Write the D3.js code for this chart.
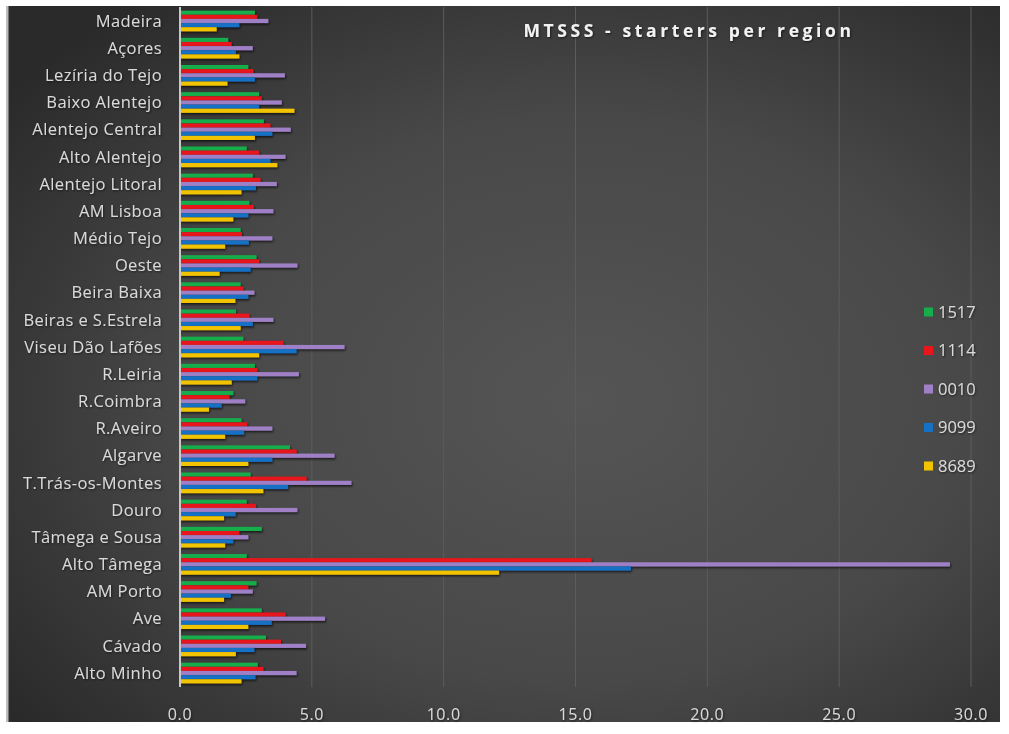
<!DOCTYPE html>
<html>
<head>
<meta charset="utf-8">
<script src="https://cdn.jsdelivr.net/npm/d3@7"></script>
<style>
  html, body { margin: 0; padding: 0; background: #fff; }
  svg { display: block; }
</style>
</head>
<body>
<div id="chart"></div>
<script>
// regions, top of the chart first
const regions = [
  "Madeira", "Açores", "Lezíria do Tejo", "Baixo Alentejo", "Alentejo Central",
  "Alto Alentejo", "Alentejo Litoral", "AM Lisboa", "Médio Tejo", "Oeste",
  "Beira Baixa", "Beiras e S.Estrela", "Viseu Dão Lafões", "R.Leiria", "R.Coimbra",
  "R.Aveiro", "Algarve", "T.Trás-os-Montes", "Douro", "Tâmega e Sousa",
  "Alto Tâmega", "AM Porto", "Ave", "Cávado", "Alto Minho"
];

// series, in the order they sit inside each group (top to bottom)
const seriesNames = ["1517", "1114", "0010", "9099", "8689"];
const seriesColors = ["#17ad4c", "#e8161b", "#9f80c6", "#1670c4", "#f2c300"];

const v1517 = [2.84, 1.83, 2.59, 3.0, 3.18, 2.53, 2.76, 2.63, 2.3, 2.9, 2.3, 2.12, 2.4, 2.84, 2.02, 2.33, 4.17, 2.68, 2.53, 3.1, 2.53, 2.9, 3.1, 3.26, 2.95];
const v1114 = [2.93, 1.96, 2.78, 3.1, 3.43, 3.0, 3.05, 2.8, 2.35, 3.0, 2.4, 2.63, 3.92, 2.93, 1.87, 2.55, 4.42, 4.8, 2.88, 2.25, 15.6, 2.59, 4.0, 3.83, 3.16];
const v0010 = [3.35, 2.76, 3.98, 3.86, 4.2, 4.0, 3.67, 3.54, 3.5, 4.45, 2.82, 3.54, 6.24, 4.51, 2.47, 3.5, 5.86, 6.5, 4.45, 2.59, 29.2, 2.76, 5.5, 4.78, 4.42];
const v9099 = [2.25, 2.12, 2.84, 3.0, 3.5, 3.43, 2.88, 2.59, 2.61, 2.68, 2.59, 2.76, 4.42, 2.93, 1.58, 2.43, 3.5, 4.1, 2.11, 2.02, 17.1, 1.93, 3.48, 2.82, 2.86];
const v8689 = [1.39, 2.25, 1.8, 4.34, 2.84, 3.69, 2.33, 2.02, 1.71, 1.5, 2.1, 2.3, 3.0, 1.96, 1.1, 1.71, 2.59, 3.16, 1.67, 1.71, 12.1, 1.67, 2.59, 2.12, 2.33];
const seriesValues = [v1517, v1114, v0010, v9099, v8689];

const xTicks = [0, 5, 10, 15, 20, 25, 30];

const width = 1009, height = 734;

const svg = d3.select("#chart").append("svg")
  .attr("width", width)
  .attr("height", height)
  .style("font-family", "'Open Sans', sans-serif");

const defs = svg.append("defs");

const bg = defs.append("radialGradient")
  .attr("id", "bg")
  .attr("cx", "58%").attr("cy", "55%").attr("r", "72%");
bg.append("stop").attr("offset", "0%").attr("stop-color", "#555555");
bg.append("stop").attr("offset", "55%").attr("stop-color", "#484848");
bg.append("stop").attr("offset", "100%").attr("stop-color", "#2a2a2a");

const shadow = defs.append("filter")
  .attr("id", "shadow")
  .attr("x", "-5%").attr("y", "-50%").attr("width", "110%").attr("height", "250%");
shadow.append("feDropShadow")
  .attr("dx", 1).attr("dy", 1.5).attr("stdDeviation", 0.9)
  .attr("flood-color", "#000").attr("flood-opacity", 0.7);

const textShadow = defs.append("filter")
  .attr("id", "tshadow")
  .attr("x", "-5%").attr("y", "-20%").attr("width", "110%").attr("height", "150%");
textShadow.append("feDropShadow")
  .attr("dx", 0.8).attr("dy", 1).attr("stdDeviation", 0.8)
  .attr("flood-color", "#000").attr("flood-opacity", 0.6);

// chart background
svg.append("rect")
  .attr("x", 7).attr("y", 6)
  .attr("width", 993).attr("height", 716)
  .attr("fill", "url(#bg)");
svg.append("rect")
  .attr("x", 6).attr("y", 6)
  .attr("width", 2.5).attr("height", 716)
  .attr("fill", "#bdbdbd");

// scales
const x = d3.scaleLinear().domain([0, 30]).range([180, 971]);
const y = d3.scaleBand().domain(regions).range([7.4, 686.6])
  .paddingInner(0.24).paddingOuter(0.12);
const ySub = d3.scaleBand().domain(seriesNames).range([0, y.bandwidth()]);

// grid lines
svg.append("g")
  .selectAll("line")
  .data(xTicks.filter(d => d > 0))
  .join("line")
  .attr("x1", d => x(d)).attr("x2", d => x(d))
  .attr("y1", 7).attr("y2", 687)
  .attr("stroke", "#5c5c5c")
  .attr("stroke-width", 1);

// bars
const groups = svg.append("g")
  .selectAll("g")
  .data(regions)
  .join("g")
  .attr("transform", d => `translate(0,${y(d)})`);

groups.selectAll("rect")
  .data((r, i) => seriesNames.map((s, k) => ({ s, k, v: seriesValues[k][i] })))
  .join("rect")
  .attr("x", x(0))
  .attr("y", d => ySub(d.s))
  .attr("width", d => x(d.v) - x(0))
  .attr("height", ySub.bandwidth())
  .attr("fill", d => seriesColors[d.k])
  .attr("filter", "url(#shadow)");

// vertical axis line
svg.append("line")
  .attr("x1", x(0)).attr("x2", x(0))
  .attr("y1", 7).attr("y2", 687)
  .attr("stroke", "#c8c8c8")
  .attr("stroke-width", 2);

// category labels
svg.append("g")
  .attr("filter", "url(#tshadow)")
  .selectAll("text")
  .data(regions)
  .join("text")
  .attr("x", 162)
  .attr("y", d => y(d) + y.bandwidth() / 2)
  .attr("dy", "0.35em")
  .attr("text-anchor", "end")
  .attr("fill", "#d9d9d9")
  .attr("font-size", 16.5)
  .attr("letter-spacing", 0.4)
  .text(d => d);

// x tick labels
svg.append("g")
  .attr("filter", "url(#tshadow)")
  .selectAll("text")
  .data(xTicks)
  .join("text")
  .attr("x", d => x(d))
  .attr("y", 714)
  .attr("dy", "0.35em")
  .attr("text-anchor", "middle")
  .attr("fill", "#d9d9d9")
  .attr("font-size", 16)
  .attr("letter-spacing", 0.6)
  .text(d => d3.format(".1f")(d));

// title
svg.append("text")
  .attr("filter", "url(#tshadow)")
  .attr("x", 689)
  .attr("y", 31)
  .attr("dy", "0.35em")
  .attr("text-anchor", "middle")
  .attr("fill", "#f2f2f2")
  .attr("font-size", 17.5)
  .attr("font-weight", "bold")
  .attr("letter-spacing", 3.6)
  .text("MTSSS - starters per region");

// legend
const legend = svg.append("g")
  .selectAll("g")
  .data(seriesNames)
  .join("g")
  .attr("transform", (d, i) => `translate(924,${312 + i * 38.5})`);

legend.append("rect")
  .attr("x", 0).attr("y", -4.5)
  .attr("width", 9).attr("height", 9)
  .attr("fill", (d, i) => seriesColors[i]);

legend.append("text")
  .attr("filter", "url(#tshadow)")
  .attr("x", 14)
  .attr("y", 0)
  .attr("dy", "0.35em")
  .attr("fill", "#d9d9d9")
  .attr("font-size", 16.5)
  .text(d => d);
</script>
</body>
</html>
